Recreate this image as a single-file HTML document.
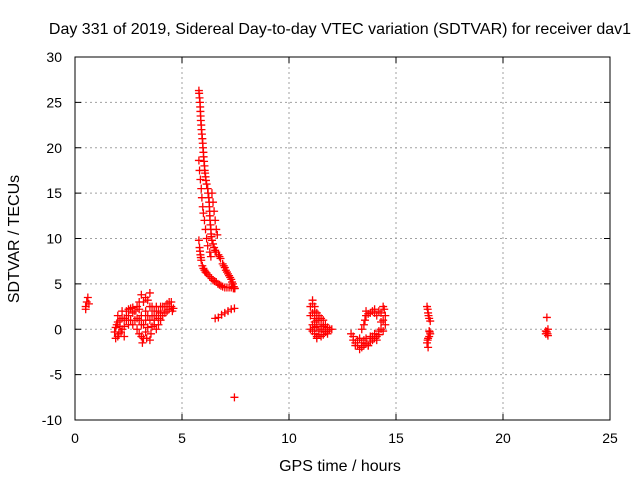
<!DOCTYPE html>
<html><head><meta charset="utf-8"><style>
body{margin:0;background:#fff;}
svg text{font-family:"Liberation Sans",sans-serif;font-size:14px;fill:#000;}
svg text.big{font-size:16px;}
</style></head><body>
<svg id="chart" width="640" height="480">
<rect width="640" height="480" fill="#fff"/>
<text class="big" x="340" y="34" text-anchor="middle">Day 331 of 2019, Sidereal Day-to-day VTEC variation (SDTVAR) for receiver dav1</text>
<text class="big" x="340" y="471" text-anchor="middle">GPS time / hours</text>
<text class="big" x="0" y="0" transform="translate(19,239) rotate(-90)" text-anchor="middle">SDTVAR / TECUs</text>
<g id="grid"></g><g id="marks"></g>
<rect x="75" y="57" width="535" height="363" fill="none" stroke="#000" stroke-width="1"/>
</svg>
<script>
const xTicks=[0,5,10,15,20,25];
const yTicks=[-10,-5,0,5,10,15,20,25,30];
const hours=[0.5,0.55,0.6,0.65,0.5,
1.85,1.9,1.95,2.0,2.05,2.1,2.2,2.2,2.3,2.3,2.4,2.5,2.5,2.6,2.7,2.8,2.9,2.9,3.0,3.0,3.1,3.1,3.15,3.2,3.3,3.3,3.35,3.4,3.5,3.5,3.55,3.6,3.7,3.8,3.9,4.0,4.1,4.2,4.3,4.4,4.5,4.55,3.8,4.0,
1.9,2.0,2.1,2.2,2.3,2.4,2.5,2.6,2.7,2.7,2.8,2.9,3.0,3.0,3.1,3.1,3.2,3.2,3.3,3.3,3.4,3.4,3.5,3.5,3.6,3.6,3.7,3.7,3.8,3.9,4.0,4.1,4.2,4.3,4.4,4.5,4.6,3.9,2.0,2.15,
5.79,5.82,5.85,5.87,5.9,5.93,5.97,6.0,6.03,6.06,6.1,6.15,6.2,6.25,6.28,6.3,6.33,6.36,6.4,6.5,6.6,6.7,6.8,6.9,7.0,7.1,7.2,7.3,7.38,7.45,
5.8,5.84,5.86,5.88,5.91,5.95,5.98,6.01,6.05,6.08,6.12,6.22,6.27,6.29,6.31,6.35,6.38,6.45,6.55,6.75,6.95,7.05,7.15,7.25,7.34,7.42,
5.79,5.82,5.86,5.9,5.93,5.97,6.0,6.05,6.1,6.15,6.2,6.3,6.35,
5.79,5.82,5.86,5.9,5.95,6.05,6.15,6.3,6.45,6.6,6.75,6.9,7.1,7.3,7.47,
5.84,5.88,6.0,6.1,6.22,6.38,6.52,6.68,6.82,7.0,7.2,7.4,
6.4,6.45,6.5,6.55,6.6,6.65,
6.55,6.7,6.85,7.0,7.15,7.3,7.45,7.45,
11.1,11.0,11.2,11.0,11.3,11.1,11.5,11.8,12.0,11.2,11.5,11.3,11.7,11.0,11.4,11.6,11.2,11.4,11.6,11.8,
11.1,11.2,11.1,11.3,11.2,11.4,11.5,11.6,11.7,11.9,11.3,11.4,11.6,11.8,11.1,11.2,11.5,11.3,
12.9,13.0,13.2,13.4,13.6,13.8,14.0,14.2,14.4,14.5,14.5,14.4,14.2,14.0,13.8,13.6,13.5,13.4,13.1,13.5,13.9,13.3,13.7,14.1,
13.0,13.1,13.3,13.5,13.6,13.7,13.8,13.9,14.0,14.1,14.2,14.3,14.3,14.4,14.3,14.1,13.9,13.7,13.6,13.55,13.2,13.4,14.45,14.0,
16.45,16.5,16.55,16.6,16.6,16.5,16.45,16.5,16.55,16.48,16.52,16.55,16.48,16.58,
22.05,22.05,22.1,22.0,22.1,22.0,22.08];
const values=[2.5,3.0,3.5,2.8,2.2,
-0.3,-1,0.5,1.5,-0.5,1.0,2.0,0,-0.8,1.2,2.0,1.5,0.5,2.3,1.8,1.0,2.5,0,3.0,-0.5,3.8,1.5,-1.5,0.5,3.5,2.0,-1.0,0.2,4.0,1.0,-0.5,2.5,0.5,1.5,2.0,1.0,2.5,1.8,2.8,2.2,3.0,2.0,0,2.5,
0.2,-0.8,0.3,1.2,0.3,1.0,2.2,1.0,2.4,0.5,2.0,1.2,1.0,2.2,0.5,-0.8,3.0,-1.0,1.0,-0.3,3.2,1.5,2.5,-1.2,1.5,0.3,2.0,1.0,2.5,1.2,1.8,1.5,2.5,2.0,3.0,2.5,2.3,0.5,0.8,-0.3,
26.3,25.5,24.5,23.5,22.5,21.5,20.5,19.5,18.5,17.5,16.8,16.0,15.5,14.5,13.5,12.5,11.5,10.5,9.8,9.0,8.5,8.2,7.8,7.2,6.8,6.3,5.9,5.5,5.0,4.5,
26,25,24,23,22,21,20,19,18,17.2,16.4,15,14,13,12,11,10.2,9.4,8.7,8,7,6.5,6.1,5.7,5.2,4.7,
18.6,17.5,16.5,15.5,14.5,13.5,12.8,12,11,10,9.2,8.5,8.0,
9.8,9,8.2,7.6,7.0,6.5,6.2,5.8,5.4,5.2,4.9,4.7,4.6,4.6,4.5,
8.6,7.9,6.7,6.3,6.0,5.6,5.3,5.0,4.8,4.6,4.6,4.5,
15,14,13,12,11,10.4,
1.2,1.3,1.6,1.8,2.0,2.2,2.3,-7.5,
3.2,2.5,2.0,1.5,1.0,0.5,0.5,0.2,0,-0.5,-0.8,-1.0,-0.3,0.0,1.5,1.0,0.2,-0.2,0.3,-0.5,
2.8,2.5,1.8,1.8,1.2,1.0,0.0,0.3,0.5,0.0,0.3,-0.6,-0.6,-0.2,-0.2,0.8,1.2,-0.8,
-0.5,-1.2,-1.8,-2.0,-1.6,-1.4,-1.0,-0.6,-0.2,0.5,1.5,2.5,2.0,2.2,1.8,1.5,0.5,0.0,-1.5,-1.2,-0.8,-1.0,-1.8,-1.2,
-0.8,-1.8,-2.2,-1.8,-1.0,-1.8,-0.8,-1.2,-0.5,-0.8,-0.2,0.0,0.8,1.0,1.8,1.5,2.0,1.7,2.0,1.0,-1.2,-1.5,2.2,1.8,
2.5,1.8,1.2,0.9,-0.5,-1.0,-1.5,-2.0,-0.2,2.2,1.5,-0.8,-1.2,-0.3,
1.3,-0.3,-0.7,-0.5,0,-0.2,-0.5];
const X0=75,X1=610,Y0=420,Y1=57;
function xs(t){return X0+(t-0)/(25-0)*(X1-X0);}
function ys(v){return Y0-(v-(-10))/(30-(-10))*(Y0-Y1);}
const NS='http://www.w3.org/2000/svg';
const grid=document.getElementById('grid'), marks=document.getElementById('marks'), svg=document.getElementById('chart');
xTicks.forEach(t=>{
  const x=xs(t);
  if(t>0&&t<25){const l=document.createElementNS(NS,'line');
    
    
    l.setAttribute('x1',x);l.setAttribute('x2',x);l.setAttribute('y1',Y1);l.setAttribute('y2',Y0);
    l.setAttribute('stroke','#a0a0a0');l.setAttribute('stroke-dasharray','2,3');grid.appendChild(l);}
  const tk=document.createElementNS(NS,'path');
  
  
  tk.setAttribute('d',`M${x},${Y0}v-6M${x},${Y1}v6`);tk.setAttribute('stroke','#000');grid.appendChild(tk);
  const tx=document.createElementNS(NS,'text');
  
  
  tx.setAttribute('x',x);tx.setAttribute('y',443);tx.setAttribute('text-anchor','middle');tx.textContent=t;svg.appendChild(tx);
});
yTicks.forEach(v=>{
  const y=ys(v);
  if(v>-10&&v<30){const l=document.createElementNS(NS,'line');
    
    
    l.setAttribute('x1',X0);l.setAttribute('x2',X1);l.setAttribute('y1',y);l.setAttribute('y2',y);
    l.setAttribute('stroke','#a0a0a0');l.setAttribute('stroke-dasharray','2,3');grid.appendChild(l);}
  const tk=document.createElementNS(NS,'path');
  
  
  tk.setAttribute('d',`M${X0},${y}h6M${X1},${y}h-6`);tk.setAttribute('stroke','#000');grid.appendChild(tk);
  const tx=document.createElementNS(NS,'text');
  
  
  tx.setAttribute('x',62);tx.setAttribute('y',y+5);tx.setAttribute('text-anchor','end');tx.textContent=v;svg.appendChild(tx);
});
hours.forEach((t,i)=>{
  const x=xs(t),y=ys(values[i]);
  const p=document.createElementNS(NS,'path');
  
  
  p.setAttribute('d',`M${x-4},${y}h8M${x},${y-4}v8`);
  p.setAttribute('stroke','#ff0000');p.setAttribute('stroke-width','1.3');
  marks.appendChild(p);
});
</script>
</body></html>
